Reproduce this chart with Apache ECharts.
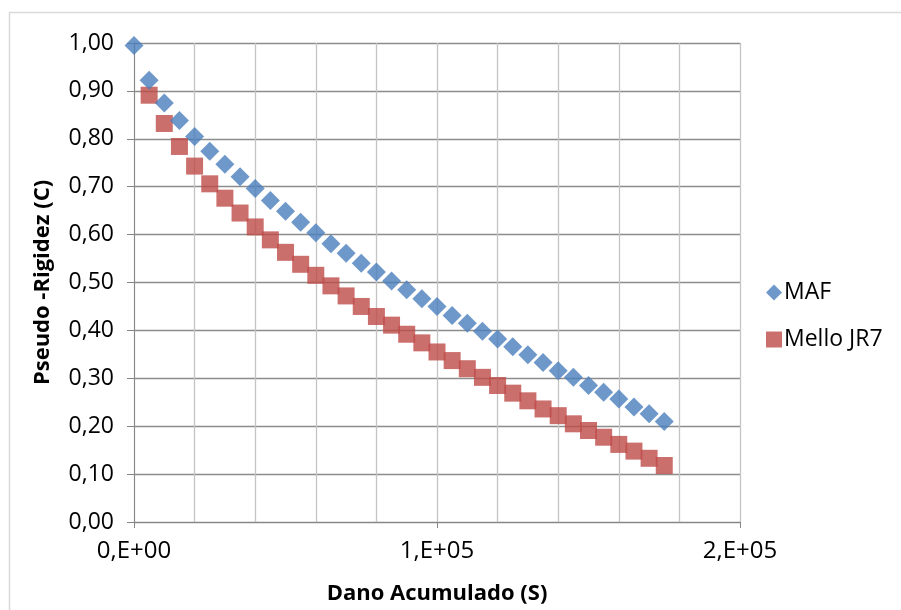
<!DOCTYPE html>
<html>
<head>
<meta charset="utf-8">
<script src="https://cdn.jsdelivr.net/npm/echarts@6/dist/echarts.min.js"></script>
<style>
html,body{margin:0;padding:0;background:#fff;}
#chart{width:901px;height:610px;}
</style>
</head>
<body>
<div id="chart"></div>
<script>
// Damage S values
var mafX = [0,5000,10000,15000,20000,25000,30000,35000,40000,45000,50000,55000,60000,65000,70000,75000,80000,85000,90000,95000,100000,105000,110000,115000,120000,125000,130000,135000,140000,145000,150000,155000,160000,165000,170000,175000];
var mafC = [0.995,0.922,0.875,0.838,0.805,0.774,0.747,0.721,0.696,0.671,0.649,0.626,0.604,0.581,0.561,0.540,0.522,0.503,0.485,0.466,0.450,0.431,0.415,0.398,0.382,0.366,0.349,0.333,0.316,0.302,0.285,0.271,0.257,0.240,0.226,0.210];
var melloX = [5000,10000,15000,20000,25000,30000,35000,40000,45000,50000,55000,60000,65000,70000,75000,80000,85000,90000,95000,100000,105000,110000,115000,120000,125000,130000,135000,140000,145000,150000,155000,160000,165000,170000,175000];
var melloC = [0.891,0.832,0.784,0.743,0.706,0.676,0.645,0.616,0.589,0.563,0.538,0.515,0.493,0.472,0.450,0.429,0.411,0.392,0.374,0.355,0.337,0.320,0.302,0.285,0.269,0.253,0.236,0.222,0.205,0.191,0.177,0.162,0.148,0.133,0.118];
var xTicks = [0,100000,200000];
var xTickLabels = ['0,E+00','1,E+05','2,E+05'];
var seriesNames = ['MAF','Mello JR7'];

function pairs(xs, ys){ return xs.map(function(x,i){ return [x, ys[i]]; }); }

var FONT = '"Open Sans", sans-serif';
var chart = echarts.init(document.getElementById('chart'), null, {renderer:'canvas'});
chart.setOption({
  animation:false,
  backgroundColor:'#fff',
  graphic:[{type:'rect', shape:{x:9.5,y:12.5,width:900,height:620}, style:{fill:'none', stroke:'#d9d9d9', lineWidth:1.5}, z:-10}],
  grid:{left:134, right:161, top:43, bottom:80, containLabel:false},
  legend:{
    orient:'vertical', left:761, top:276, itemGap:24, itemWidth:16, itemHeight:16,
    textStyle:{fontFamily:FONT, fontSize:23, color:'#000', padding:[0,0,0,-3]},
    data:[{name:seriesNames[0], icon:'diamond'},{name:seriesNames[1], icon:'rect'}]
  },
  xAxis:[{
    type:'value', min:0, max:200000, interval:100000,
    name:'Dano Acumulado (S)', nameLocation:'middle', nameGap:61,
    nameTextStyle:{fontFamily:FONT, fontSize:22, fontWeight:'bold', color:'#000'},
    axisLine:{show:true, lineStyle:{color:'#868686', width:1}},
    axisTick:{show:true, length:6, lineStyle:{color:'#868686'}},
    axisLabel:{fontFamily:FONT, fontSize:24, color:'#000', margin:17,
      formatter:function(v){ var i = xTicks.indexOf(v); return i>=0 ? xTickLabels[i] : ''; }},
    splitLine:{show:false}
  },{
    type:'value', min:0, max:200000, interval:20000, position:'bottom',
    axisLine:{show:false}, axisTick:{show:false}, axisLabel:{show:false},
    splitLine:{show:true, lineStyle:{color:'#c4c4c4', width:1.3}}
  }],
  yAxis:{
    type:'value', min:0, max:1, interval:0.1,
    name:'Pseudo -Rigidez (C)', nameLocation:'middle', nameGap:80, nameRotate:90,
    nameTextStyle:{fontFamily:FONT, fontSize:22, fontWeight:'bold', color:'#000'},
    axisLine:{show:true, lineStyle:{color:'#868686', width:1}},
    axisTick:{show:true, length:7, lineStyle:{color:'#868686'}},
    axisLabel:{fontFamily:FONT, fontSize:23, color:'#000', margin:20,
      formatter:function(v){ return v.toFixed(2).replace('.', ','); }},
    splitLine:{show:true, lineStyle:{color:'#8c8c8c', width:1.3}}
  },
  series:[{
    name:seriesNames[0], type:'scatter', xAxisIndex:0, symbol:'diamond', symbolSize:19,
    itemStyle:{color:'#4a7ebb'}, data:pairs(mafX, mafC), z:3
  },{
    name:seriesNames[1], type:'scatter', xAxisIndex:0, symbol:'rect', symbolSize:17,
    itemStyle:{color:'#be4b48'}, data:pairs(melloX, melloC), z:2
  }]
});
</script>
</body>
</html>
